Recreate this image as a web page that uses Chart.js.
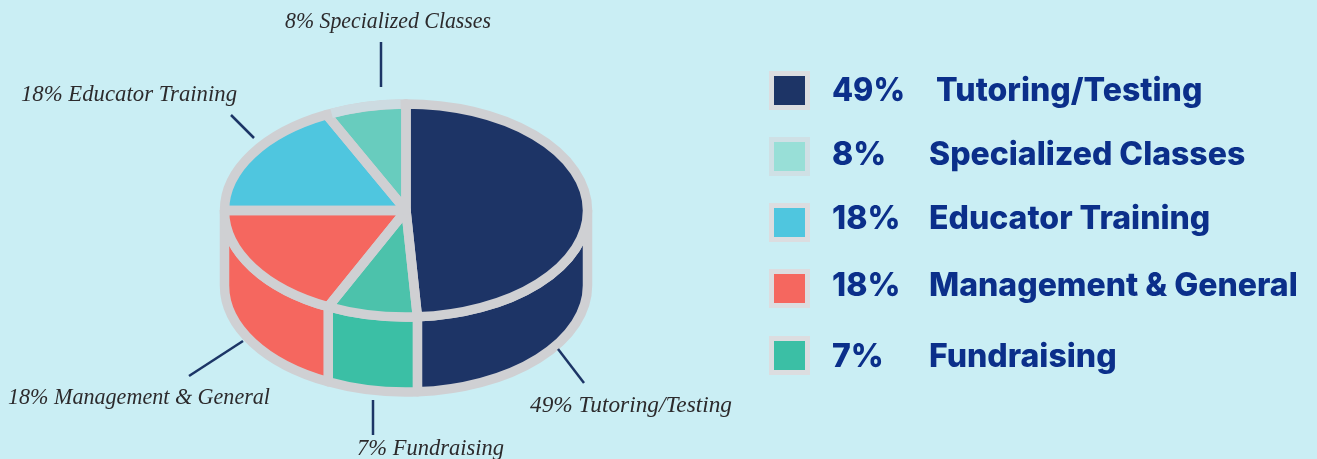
<!DOCTYPE html>
<html lang="en">

<head>
    <title>Program Expenses</title>
    <meta charset="utf-8">
    <style>
        html, body { margin: 0; padding: 0; background: #caeef4; }
        canvas { display: block; }
    </style>
</head>

<body>
    <canvas id="pie3d" width="1317" height="459"></canvas>

    <script src="https://cdn.jsdelivr.net/npm/chart.js"></script>
    <script>
        // clockwise from 12 o'clock
        const categories = ['Tutoring/Testing', 'Fundraising', 'Management & General', 'Educator Training', 'Specialized Classes'];
        // printed percentages
        const percents = [49, 7, 18, 18, 8];
        // wedge shares as drawn in the picture (the artwork's wedges are a bit off the printed numbers)
        const drawnShares = [49, 8.05, 17.95, 17.8, 7.2];
        const topColors = ['#1d3466', '#4cc2ab', '#f5675f', '#4fc6df', '#68ccbe'];
        const wallColors = ['#1d3466', '#3bbfa5', '#f5675f', '#4fc6df', '#68ccbe'];
        const rimColors = ['#cfd0d3', '#cfd0d3', '#cfd0d3', '#cfd0d3', '#cddbe1'];
        const legendOrder = [0, 4, 3, 2, 1];
        const legendSwatches = ['#1d3466', '#98dfd7', '#4fc6df', '#f5675f', '#3bbfa5'];
        const legendFrames = ['#dcdde0', '#cfe0e5', '#dcdde0', '#dcdde0', '#dcdde0'];

        const squash = 0.587;
        const depth = 75;
        const rimWidth = 9.5;

        const wallPlugin = {
            id: 'wall',
            beforeDatasetDraw(chart, args) {
                const ctx = chart.ctx;
                const arcs = args.meta.data;
                const { x, y, outerRadius } = arcs[0];
                const ry = outerRadius * squash;

                // side wall, only the part of each slice facing the viewer
                arcs.forEach((arc, i) => {
                    const lo = Math.max(arc.startAngle, 0);
                    const hi = Math.min(arc.endAngle, Math.PI);
                    if (hi <= lo) return;
                    ctx.beginPath();
                    ctx.ellipse(x, y, outerRadius, ry, 0, lo, hi);
                    ctx.ellipse(x, y + depth, outerRadius, ry, 0, hi, lo, true);
                    ctx.closePath();
                    ctx.fillStyle = wallColors[i];
                    ctx.fill();
                    ctx.strokeStyle = '#cfd0d3';
                    ctx.lineWidth = rimWidth;
                    ctx.lineJoin = 'round';
                    ctx.stroke();
                });

                ctx.save();
                ctx.translate(x, y);
                ctx.scale(1, squash);
                ctx.translate(-x, -y);
            },
            afterDatasetDraw(chart, args) {
                const ctx = chart.ctx;
                ctx.restore();
                const arcs = args.meta.data;
                const { x, y, outerRadius } = arcs[0];
                const ry = outerRadius * squash;

                // outlines are stroked without the squash so they stay even
                ctx.strokeStyle = '#cfd0d3';
                ctx.lineWidth = rimWidth;
                ctx.lineJoin = 'round';
                arcs.forEach(arc => {
                    ctx.beginPath();
                    ctx.moveTo(x, y);
                    ctx.ellipse(x, y, outerRadius, ry, 0, arc.startAngle, arc.endAngle);
                    ctx.closePath();
                    ctx.stroke();
                });
                arcs.forEach((arc, i) => {
                    if (rimColors[i] === '#cfd0d3') return;
                    ctx.beginPath();
                    ctx.ellipse(x, y, outerRadius, ry, 0, arc.startAngle + 0.03, arc.endAngle - 0.03);
                    ctx.strokeStyle = rimColors[i];
                    ctx.stroke();
                });
            }
        };

        // callout text and its tick line, same order as categories
        const callouts = [
            { tx: 530, ty: 412, w: 202, line: [558, 349, 584, 383] },
            { tx: 357, ty: 455, w: 147, line: [373, 400, 373, 435] },
            { tx: 8, ty: 404, w: 262, line: [243, 341, 189, 376] },
            { tx: 21, ty: 101, w: 216, line: [231, 115, 254, 138] },
            { tx: 285, ty: 28, w: 206, line: [381, 42, 381, 87] }
        ];
        const legendRows = [
            { top: 71, base: 101, labelX: 936 },
            { top: 137, base: 165, labelX: 929 },
            { top: 203, base: 229, labelX: 929 },
            { top: 269, base: 296, labelX: 929 },
            { top: 336, base: 367, labelX: 929 }
        ];

        const textPlugin = {
            id: 'texts',
            afterDraw(chart) {
                const ctx = chart.ctx;
                ctx.save();
                ctx.textBaseline = 'alphabetic';
                ctx.textAlign = 'left';

                categories.forEach((name, i) => {
                    const c = callouts[i];
                    ctx.beginPath();
                    ctx.moveTo(c.line[0], c.line[1]);
                    ctx.lineTo(c.line[2], c.line[3]);
                    ctx.strokeStyle = '#1c3566';
                    ctx.lineWidth = 2.5;
                    ctx.stroke();
                    ctx.font = 'italic 23.5px "Liberation Serif"';
                    ctx.fillStyle = '#2c2a2c';
                    ctx.fillText(percents[i] + '% ' + name, c.tx, c.ty, c.w);
                });

                legendOrder.forEach((idx, row) => {
                    const r = legendRows[row];
                    ctx.fillStyle = legendFrames[row];
                    ctx.fillRect(769, r.top, 41, 39);
                    ctx.fillStyle = legendSwatches[row];
                    ctx.fillRect(774, r.top + 5, 31, 29);
                    ctx.font = '800 32px Inter';
                    ctx.fillStyle = '#0b2f8a';
                    ctx.fillText(percents[idx] + '%', 832, r.base, 73);
                    ctx.fillText(categories[idx], r.labelX, r.base, 379);
                });
                ctx.restore();
            }
        };

        new Chart(document.getElementById('pie3d').getContext('2d'), {
            type: 'pie',
            data: {
                labels: categories,
                datasets: [{
                    data: drawnShares,
                    backgroundColor: topColors,
                    borderWidth: 0,
                    clip: false
                }]
            },
            options: {
                responsive: false,
                animation: false,
                radius: 181.5,
                layout: { padding: { left: 0, right: 505, top: 0, bottom: 38 } },
                plugins: { legend: { display: false }, tooltip: { enabled: false } }
            },
            plugins: [wallPlugin, textPlugin]
        });
    </script>
</body>

</html>
